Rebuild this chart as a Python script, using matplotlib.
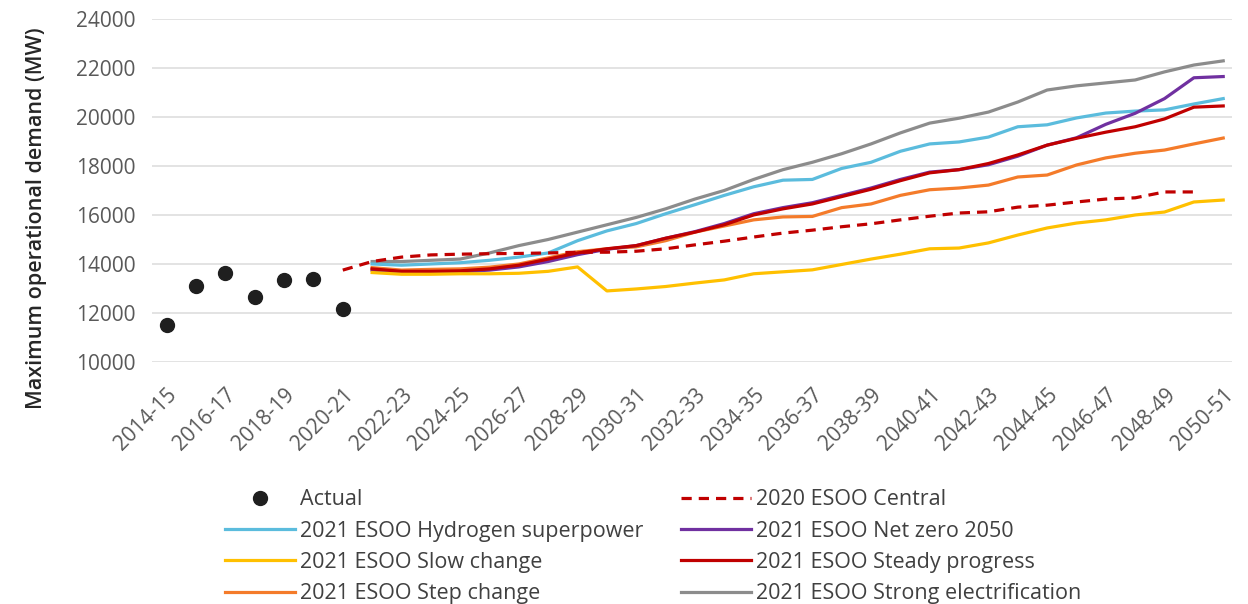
import numpy as np
from matplotlib import pyplot as plt

plt.rcParams['font.family'] = ['Open Sans', 'DejaVu Sans']

# Financial years on the category axis
years = [f"{y}-{str(y + 1)[2:]}" for y in range(2014, 2051)]

# Actual maximum demand, 2014-15 to 2020-21
actual = [11500, 13100, 13620, 12650, 13350, 13390, 12160]

# 2020 ESOO Central, 2020-21 to 2049-50
central_2020 = [13750, 14100, 14280, 14370, 14400, 14420, 14430, 14450, 14480, 14480,
                14520, 14620, 14780, 14930, 15100, 15260, 15380, 15520, 15640, 15800,
                15950, 16080, 16130, 16320, 16400, 16530, 16650, 16700, 16940, 16940]

# 2021 ESOO scenarios, 2021-22 to 2050-51
hydrogen = [14000, 13950, 14000, 14050, 14150, 14280, 14450, 14950, 15350, 15650,
            16050, 16420, 16800, 17150, 17420, 17450, 17900, 18150, 18600, 18900,
            18980, 19180, 19600, 19680, 19960, 20160, 20240, 20290, 20530, 20750]
net_zero = [13750, 13650, 13650, 13680, 13750, 13880, 14100, 14380, 14600, 14750,
            15050, 15320, 15650, 16050, 16300, 16500, 16800, 17100, 17450, 17750,
            17850, 18050, 18400, 18850, 19150, 19700, 20150, 20750, 21600, 21650]
slow = [13650, 13580, 13580, 13600, 13600, 13620, 13700, 13880, 12900, 12980,
        13080, 13220, 13350, 13600, 13680, 13760, 13980, 14200, 14400, 14620,
        14650, 14860, 15180, 15470, 15670, 15800, 16000, 16120, 16530, 16610]
steady = [13800, 13700, 13700, 13720, 13800, 13950, 14200, 14450, 14620, 14750,
          15050, 15300, 15600, 16000, 16250, 16450, 16750, 17050, 17400, 17720,
          17850, 18100, 18450, 18850, 19130, 19380, 19600, 19920, 20400, 20450]
step = [13850, 13750, 13780, 13800, 13870, 14000, 14250, 14500, 14620, 14700,
        14950, 15300, 15550, 15800, 15920, 15940, 16300, 16450, 16800, 17030,
        17100, 17220, 17550, 17630, 18040, 18330, 18520, 18650, 18900, 19140]
strong = [14100, 14100, 14150, 14200, 14450, 14750, 15000, 15300, 15600, 15900,
          16250, 16650, 17000, 17450, 17850, 18150, 18500, 18900, 19350, 19750,
          19950, 20200, 20610, 21100, 21270, 21390, 21510, 21840, 22120, 22290]

x_actual = np.arange(0, len(actual))
x_central = np.arange(6, 6 + len(central_2020))
x_2021 = np.arange(7, 7 + len(hydrogen))

fig = plt.figure(figsize=(12.48, 6.04), dpi=100)
ax = fig.add_axes([0.1218, 0.4007, 0.8654, 0.5679])

lw = 2.3
ax.plot(x_2021, strong, color="#8c8c8c", linewidth=lw, label="2021 ESOO Strong electrification")
ax.plot(x_2021, hydrogen, color="#5bbcdd", linewidth=lw, label="2021 ESOO Hydrogen superpower")
ax.plot(x_2021, step, color="#f47b2a", linewidth=lw, label="2021 ESOO Step change")
ax.plot(x_2021, net_zero, color="#7030a0", linewidth=lw, label="2021 ESOO Net zero 2050")
ax.plot(x_2021, steady, color="#c00000", linewidth=lw, label="2021 ESOO Steady progress")
ax.plot(x_2021, slow, color="#ffc000", linewidth=lw, label="2021 ESOO Slow change")
ax.plot(x_central, central_2020, color="#c00000", linewidth=lw, linestyle=(0, (3.2, 2.2)),
        label="2020 ESOO Central")
ax.plot(x_actual, actual, "o", color="#1f1f1f", markersize=10, label="Actual")

ax.set_ylim(10000, 24000)
ax.set_yticks(np.arange(10000, 24001, 2000))
ax.set_xlim(-0.5, 36.3)
ax.set_xticks(np.arange(0, len(years), 2))
ax.set_xticklabels(years[::2], rotation=45, ha="right", rotation_mode="anchor")
ax.tick_params(axis="both", length=0, labelsize=15, labelcolor="#595959")
ax.tick_params(axis="x", pad=16)
ax.tick_params(axis="y", pad=12)
ax.grid(axis="y", color="#dedede", linewidth=1.2)
ax.set_axisbelow(True)
for s in ax.spines.values():
    s.set_visible(False)

ax.set_ylabel("Maximum operational demand (MW)", fontsize=15.5, fontweight="semibold",
              color="#262626")
ax.yaxis.set_label_coords(-0.097, 0.42)

# legend order: left column then right column
h, l = ax.get_legend_handles_labels()
order = ["Actual", "2021 ESOO Hydrogen superpower", "2021 ESOO Slow change",
         "2021 ESOO Step change", "2020 ESOO Central", "2021 ESOO Net zero 2050",
         "2021 ESOO Steady progress", "2021 ESOO Strong electrification"]
handles = [h[l.index(name)] for name in order]
fig.legend(handles, order, ncol=2, loc="upper left", bbox_to_anchor=(0.1803, 0.19),
           frameon=False, fontsize=15.5, labelcolor="#404040", handlelength=3.25,
           handletextpad=0.23, columnspacing=1.75, labelspacing=0.48, borderaxespad=0,
           borderpad=0)

plt.savefig("out.png", dpi=100)
